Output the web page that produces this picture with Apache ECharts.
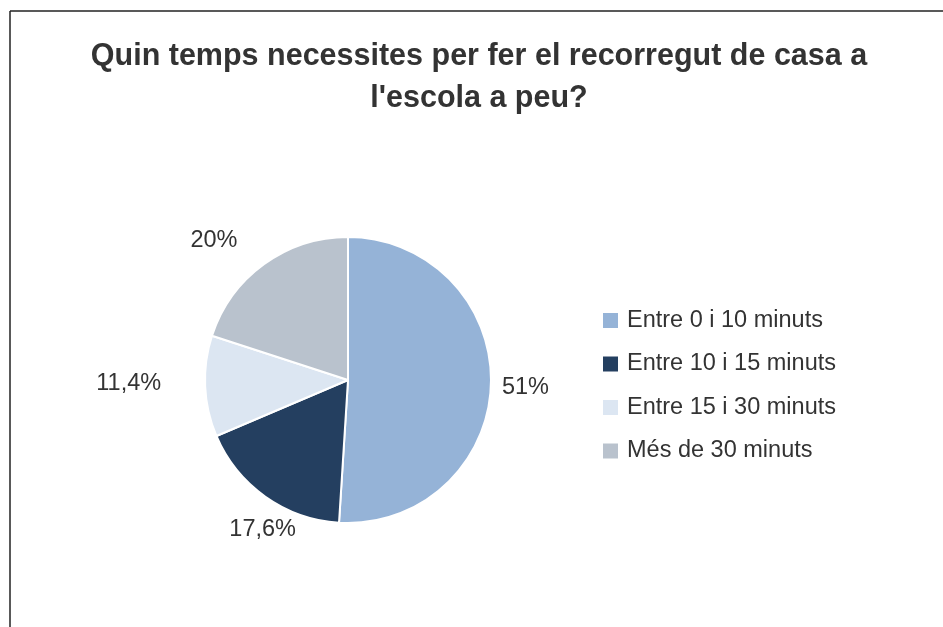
<!DOCTYPE html>
<html>
<head>
<meta charset="utf-8">
<script src="https://cdn.jsdelivr.net/npm/echarts@6/dist/echarts.min.js"></script>
<style>
  html, body { margin: 0; padding: 0; background: #fff; }
  #chart { width: 943px; height: 627px; }
</style>
</head>
<body>
<div id="chart"></div>
<script>
  // categories and values (percent)
  var categories = ["Entre 0 i 10 minuts", "Entre 10 i 15 minuts", "Entre 15 i 30 minuts", "Més de 30 minuts"];
  var values = [51, 17.6, 11.4, 20];
  var labels = ["51%", "17,6%", "11,4%", "20%"];
  var colors = ["#95b3d7", "#243f60", "#dce6f2", "#b9c2cd"];
  // small nudges for the data labels (like the manual placement in the original)
  var labelNudge = [[0, 3], [39, 28], [-33, -3], [-18, -19]];

  var font = "'Liberation Sans', Arial, sans-serif";

  var myChart = echarts.init(document.getElementById("chart"));
  var option = {
    animation: false,
    title: {
      text: "Quin temps necessites per fer el recorregut de casa a\nl'escola a peu?",
      left: 479,
      textAlign: "center",
      top: 36,
      padding: 0,
      textStyle: {
        fontFamily: font,
        fontSize: 30.5,
        fontWeight: "bold",
        color: "#333333",
        lineHeight: 42
      }
    },
    legend: {
      orient: "vertical",
      left: 601,
      top: 306.5,
      padding: 0,
      itemWidth: 17,
      itemHeight: 17,
      itemGap: 15.5,
      icon: "rect",
      textStyle: {
        fontFamily: font,
        fontSize: 23.5,
        lineHeight: 28,
        color: "#333333",
        padding: [0, 0, 0, 3]
      },
      data: categories
    },
    graphic: [
      {
        type: "line",
        shape: { x1: 10, y1: 11, x2: 943, y2: 11 },
        style: { stroke: "#222", lineWidth: 1.5 }
      },
      {
        type: "line",
        shape: { x1: 10, y1: 11, x2: 10, y2: 627 },
        style: { stroke: "#222", lineWidth: 1.5 }
      }
    ],
    series: [
      {
        type: "pie",
        center: [348, 380],
        radius: 143,
        startAngle: 90,
        clockwise: true,
        data: categories.map(function(c, i) {
          return { name: c, value: values[i], itemStyle: { color: colors[i] } };
        }),
        itemStyle: {
          borderColor: "#ffffff",
          borderWidth: 2
        },
        label: {
          show: true,
          position: "outside",
          fontFamily: font,
          fontSize: 23.5,
          color: "#333333",
          formatter: function(p) {
            return labels[p.dataIndex];
          }
        },
        labelLine: { show: false, length: 6, length2: 0 },
        labelLayout: function(p) {
          var n = labelNudge[p.dataIndex];
          return { dx: n[0], dy: n[1] };
        },
        emphasis: { disabled: true }
      }
    ]
  };
  myChart.setOption(option);
</script>
</body>
</html>
